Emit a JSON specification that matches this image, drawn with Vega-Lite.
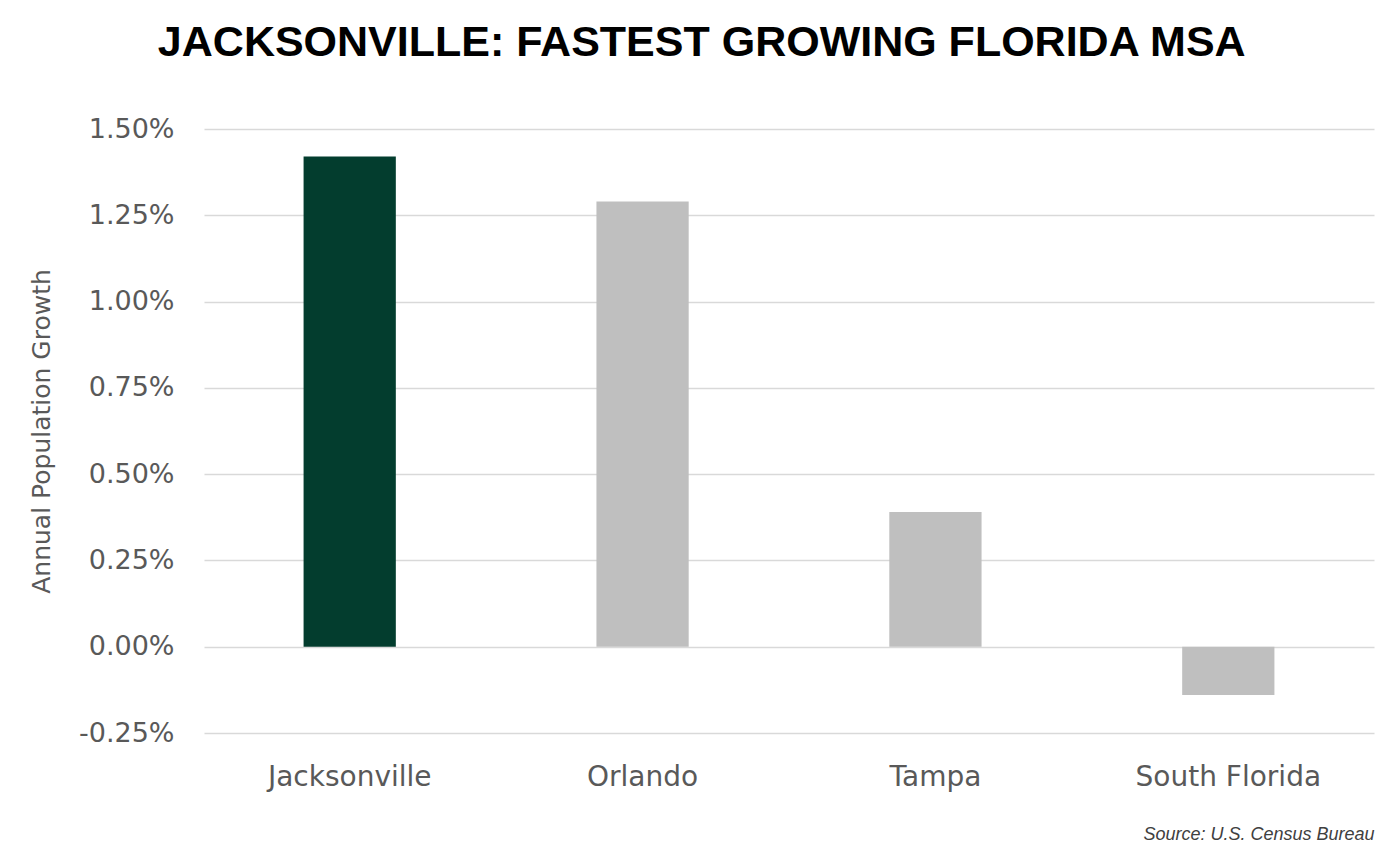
{
  "$schema": "https://vega.github.io/schema/vega-lite/v6.json",
  "width": 1170,
  "height": 604,
  "padding": {"left": 29, "top": 22, "right": 20, "bottom": 0},
  "background": "white",
  "config": {"view": {"stroke": null}, "font": "DejaVu Sans"},
  "title": {
    "text": "JACKSONVILLE: FASTEST GROWING FLORIDA MSA",
    "font": "Liberation Sans",
    "fontSize": 43,
    "fontWeight": "bold",
    "color": "#000000",
    "anchor": "middle",
    "frame": "bounds",
    "offset": 50
  },
  "data": {
    "values": [
      {"msa": "Jacksonville", "growth": 0.0142, "highlight": "yes"},
      {"msa": "Orlando", "growth": 0.0129, "highlight": "no"},
      {"msa": "Tampa", "growth": 0.0039, "highlight": "no"},
      {"msa": "South Florida", "growth": -0.0014, "highlight": "no"}
    ]
  },
  "mark": {"type": "bar"},
  "encoding": {
    "x": {
      "field": "msa",
      "type": "nominal",
      "sort": null,
      "scale": {"paddingInner": 0.685, "paddingOuter": 0.34},
      "axis": {
        "title": "Source: U.S. Census Bureau",
        "titleAnchor": "end",
        "titleFont": "Liberation Sans",
        "titleFontStyle": "italic",
        "titleFontWeight": "normal",
        "titleFontSize": 18,
        "titleColor": "#404040",
        "titlePadding": 34,
        "labelAngle": 0,
        "labelFont": "DejaVu Sans",
        "labelFontSize": 28,
        "labelColor": "#595959",
        "labelPadding": 30,
        "labelLimit": 400,
        "ticks": false,
        "domain": false,
        "grid": false
      }
    },
    "y": {
      "field": "growth",
      "type": "quantitative",
      "scale": {"domain": [-0.0025, 0.015], "nice": false},
      "axis": {
        "title": "Annual Population Growth",
        "titleFont": "DejaVu Sans",
        "titleFontSize": 25,
        "titleFontWeight": "normal",
        "titleColor": "#595959",
        "titlePadding": 24,
        "values": [-0.0025, 0, 0.0025, 0.005, 0.0075, 0.01, 0.0125, 0.015],
        "format": ".2%",
        "labelExpr": "replace(datum.label, '\u2212', '-')",
        "labelFont": "DejaVu Sans",
        "labelFontSize": 27,
        "labelColor": "#595959",
        "labelPadding": 30,
        "ticks": false,
        "domain": false,
        "grid": true,
        "gridColor": "#D9D9D9",
        "gridWidth": 1.5
      }
    },
    "color": {
      "field": "highlight",
      "type": "nominal",
      "scale": {"domain": ["yes", "no"], "range": ["#033D2E", "#BFBFBF"]},
      "legend": null
    }
  }
}
